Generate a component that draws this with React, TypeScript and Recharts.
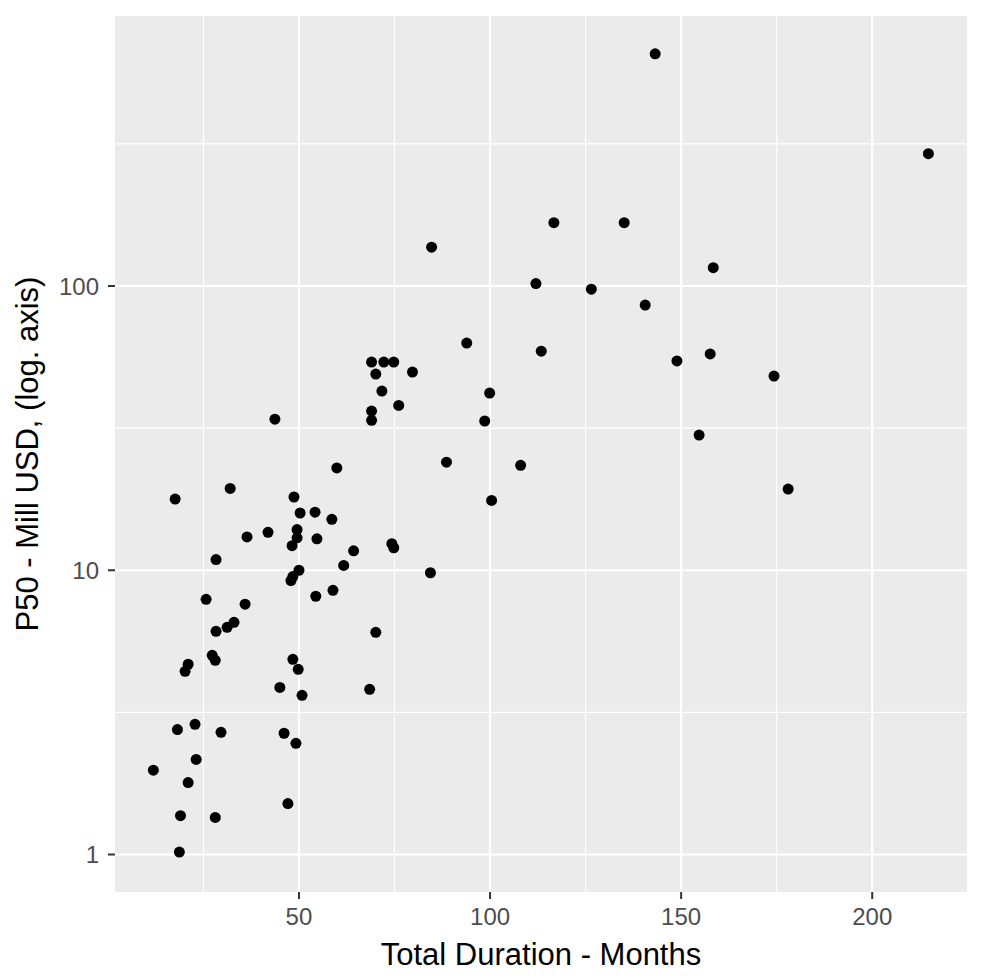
import { ScatterChart, Scatter, XAxis, YAxis, CartesianGrid, ReferenceLine, Label } from 'recharts'

// total duration in months
const months = [
  11.9, 17.6, 18.2, 18.7, 19.0, 20.2, 21.0, 21.0, 22.8, 23.1,
  25.7, 27.3, 28.1, 28.3, 28.3, 28.1, 29.6, 31.2, 32.0, 33.0,
  35.9, 36.4, 41.9, 43.7, 45.0, 46.1, 47.1, 47.9, 48.2, 48.4,
  48.4, 48.7, 49.2, 49.5, 49.5, 49.8, 50.0, 50.3, 50.8, 54.2,
  54.4, 54.7, 58.6, 58.9, 59.9, 61.7, 64.3, 68.5, 69.0, 69.0,
  69.0, 70.1, 70.1, 71.7, 72.2, 74.3, 74.8, 74.8, 76.1, 79.7,
  84.4, 84.7, 88.6, 93.9, 98.6, 99.9, 100.4, 108.0, 112.0, 113.4,
  116.7, 126.5, 135.1, 143.2, 140.6, 148.9, 154.7, 157.6, 158.4, 174.3,
  178.0, 214.7,
]

// P50 in million USD
const p50 = [
  1.98, 17.8, 2.75, 1.02, 1.37, 4.41, 4.67, 1.79, 2.87, 2.16,
  7.9, 5.02, 4.82, 10.9, 6.1, 1.35, 2.69, 6.3, 19.4, 6.56,
  7.6, 13.1, 13.6, 34, 3.87, 2.67, 1.51, 9.2, 12.2, 4.86,
  9.5, 18.1, 2.46, 13.9, 13.0, 4.48, 10.0, 15.9, 3.63, 16.0,
  8.1, 12.9, 15.1, 8.5, 22.9, 10.4, 11.7, 3.81, 54, 36.3,
  33.7, 49, 6.05, 42.7, 54, 12.4, 12.0, 54, 38, 49.8,
  9.8, 137, 24, 63, 33.5, 42, 17.6, 23.4, 102, 59,
  167, 97.5, 167, 656, 85.7, 54.5, 29.9, 57.7, 116, 48.2,
  19.3, 292,
]

const xTicks = [50, 100, 150, 200]
const xMinor = [25, 75, 125, 175]
const yTicks = [1, 10, 100]
const yMinor = [3.162, 31.62, 316.2]

const data = months.map((m, i) => ({ x: m, y: p50[i] }))

const FONT = '"Liberation Sans", Arial, Helvetica, sans-serif'

export default function App() {
  return (
    <div style={{ position: 'absolute', left: 0, top: 0, background: '#fff' }}>
      <ScatterChart width={985} height={980} margin={{ top: 16, right: 18, bottom: 0, left: 0 }}>
        <CartesianGrid fill="#EBEBEB" horizontal={false} vertical={false} />
        {xMinor.map((v) => (
          <ReferenceLine key={'xm' + v} x={v} stroke="#fff" strokeWidth={1.1} />
        ))}
        {yMinor.map((v) => (
          <ReferenceLine key={'ym' + v} y={v} stroke="#fff" strokeWidth={1.1} />
        ))}
        {xTicks.map((v) => (
          <ReferenceLine key={'x' + v} x={v} stroke="#fff" strokeWidth={2.2} />
        ))}
        {yTicks.map((v) => (
          <ReferenceLine key={'y' + v} y={v} stroke="#fff" strokeWidth={2.2} />
        ))}
        <XAxis
          type="number"
          dataKey="x"
          domain={[1.86, 224.8]}
          allowDataOverflow
          ticks={xTicks}
          height={88}
          axisLine={false}
          tickSize={7}
          tickMargin={9}
          tickLine={{ stroke: '#333', strokeWidth: 2 }}
          tick={{ fill: '#4D4D4D', fontSize: 24, fontFamily: FONT }}
        >
          <Label
            value="Total Duration - Months"
            position="insideBottom"
            offset={15}
            fill="#000"
            fontSize={31}
            fontFamily={FONT}
          />
        </XAxis>
        <YAxis
          type="number"
          dataKey="y"
          scale="log"
          domain={[0.738, 891]}
          allowDataOverflow
          ticks={yTicks}
          width={115}
          axisLine={false}
          tickSize={7}
          tickMargin={9}
          tickLine={{ stroke: '#333', strokeWidth: 2 }}
          tick={{ fill: '#4D4D4D', fontSize: 24, fontFamily: FONT }}
        >
          <Label
            content={({ viewBox }: any) => {
              const cy = viewBox.y + viewBox.height / 2
              return (
                <text
                  x={38}
                  y={cy}
                  transform={`rotate(-90, 38, ${cy})`}
                  textAnchor="middle"
                  fill="#000"
                  fontSize={31}
                  fontFamily={FONT}
                >
                  P50 - Mill USD, (log. axis)
                </text>
              )
            }}
          />
        </YAxis>
        <Scatter
          data={data}
          fill="#000"
          isAnimationActive={false}
          shape={(p: any) => <circle cx={p.cx} cy={p.cy} r={5.5} fill="#000" />}
        />
      </ScatterChart>
    </div>
  )
}
